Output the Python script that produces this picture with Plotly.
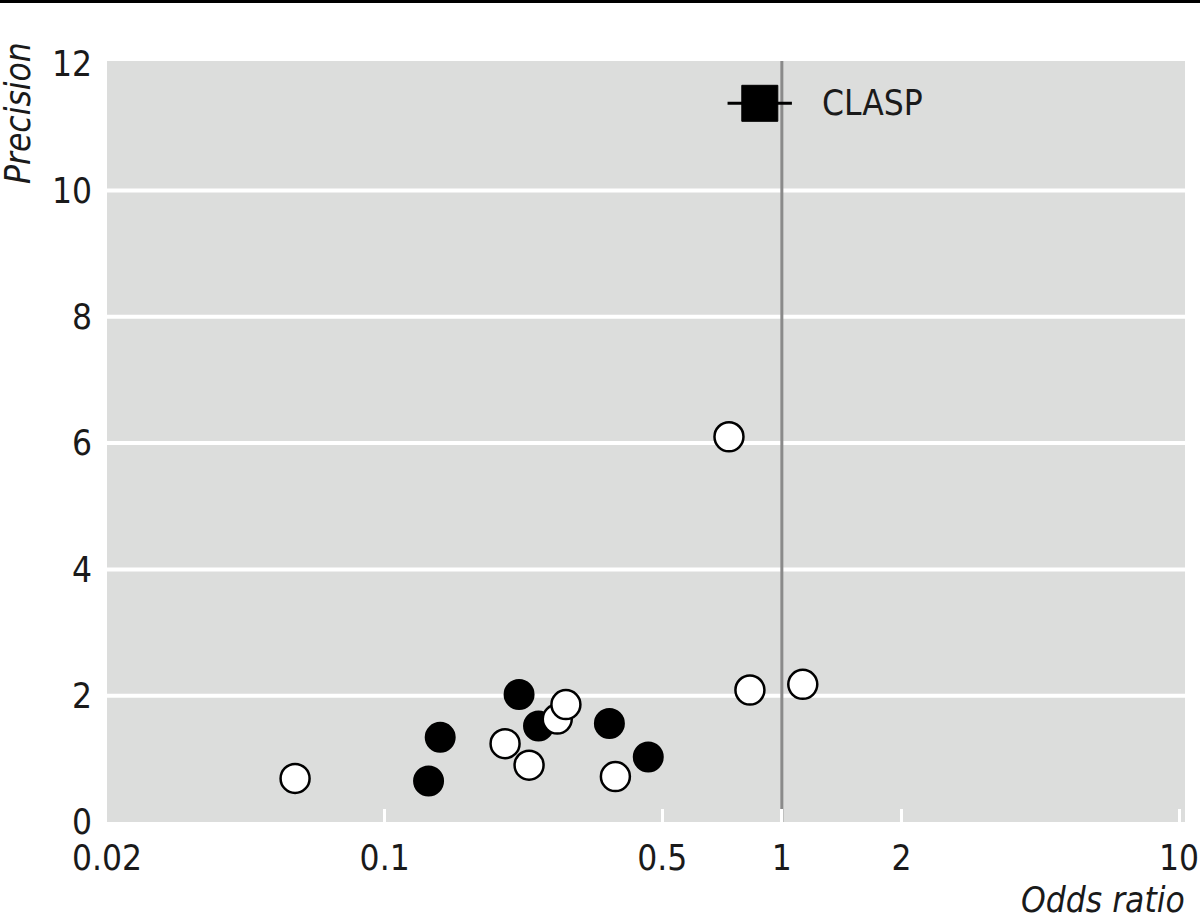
import math
import plotly.graph_objects as go

# Filled circles (odds ratio, precision)
filled_or = [0.129, 0.138, 0.218, 0.244, 0.368, 0.461]
filled_prec = [0.65, 1.34, 2.02, 1.52, 1.56, 1.03]

# Open circles (odds ratio, precision)
open_or = [0.0595, 0.201, 0.231, 0.381, 0.272, 0.286, 0.736, 0.831, 1.129]
open_prec = [0.69, 1.24, 0.90, 0.72, 1.63, 1.86, 6.10, 2.09, 2.18]

# CLASP trial
clasp_or = [0.88]
clasp_prec = [11.38]
clasp_lo = [0.73]
clasp_hi = [1.06]
clasp_label = "CLASP"

x_ticks = [0.02, 0.1, 0.5, 1, 2, 10]
x_ticklabels = ["0.02", "0.1", "0.5", "1", "2", "10"]
y_ticks = [0, 2, 4, 6, 8, 10, 12]
y_gridlines = [2, 4, 6, 8, 10]
x_range = [0.02, 10.35]
y_range = [0, 12.05]
null_or = 1

FONT = "Liberation Sans Narrow, DejaVu Sans Condensed, Roboto Condensed, Arial Narrow, sans-serif"
INK = "#1a1a1a"

fig = go.Figure()

# null line at OR = 1
fig.add_trace(go.Scatter(
    x=[null_or, null_or], y=y_range, mode="lines",
    line=dict(color="#8a8a8a", width=3), hoverinfo="skip", showlegend=False))

fig.add_trace(go.Scatter(
    x=filled_or, y=filled_prec, mode="markers",
    marker=dict(symbol="circle", size=29, color="black", line=dict(color="black", width=2)),
    showlegend=False))

fig.add_trace(go.Scatter(
    x=open_or, y=open_prec, mode="markers",
    marker=dict(symbol="circle", size=29, color="white", line=dict(color="black", width=2.5)),
    showlegend=False))

fig.add_trace(go.Scatter(
    x=clasp_or, y=clasp_prec, mode="markers",
    marker=dict(symbol="square", size=36, color="black", line=dict(color="black", width=1)),
    error_x=dict(type="data", symmetric=False,
                 array=[h - c for h, c in zip(clasp_hi, clasp_or)],
                 arrayminus=[c - l for c, l in zip(clasp_or, clasp_lo)],
                 color="black", thickness=3, width=0),
    showlegend=False))

fig.add_annotation(
    x=math.log10(clasp_or[0]), y=clasp_prec[0], xref="x", yref="y",
    text=clasp_label, showarrow=False, xanchor="left", yanchor="middle",
    xshift=60, font=dict(family=FONT, size=35, color=INK))

# white horizontal gridlines (not at the plot edges)
for gy in y_gridlines:
    fig.add_shape(type="line", xref="paper", yref="y", x0=0, x1=1, y0=gy, y1=gy,
                  line=dict(color="white", width=4), layer="below")

# axis titles
fig.add_annotation(
    x=1.002, y=-0.1025, xref="paper", yref="paper", text="<i>Odds ratio</i>",
    showarrow=False, xanchor="right", yanchor="middle",
    font=dict(family=FONT, size=35, color=INK))
fig.add_annotation(
    x=-0.0826, y=0.9317, xref="paper", yref="paper", text="<i>Precision</i>",
    showarrow=False, textangle=-90, xanchor="center", yanchor="middle",
    font=dict(family=FONT, size=35, color=INK))

# top black rule
fig.add_shape(type="line", xref="paper", yref="paper",
              x0=-0.2, x1=1.1, y0=1.0788, y1=1.0788,
              line=dict(color="black", width=4))

fig.update_xaxes(
    type="log", range=[math.log10(v) for v in x_range],
    tickvals=x_ticks, ticktext=x_ticklabels,
    ticks="inside", ticklen=13, tickwidth=3, tickcolor="white",
    ticklabelstandoff=12,
    showgrid=False, zeroline=False, showline=False, automargin=False,
    tickfont=dict(family=FONT, size=35, color=INK))
fig.update_yaxes(
    range=y_range, tickvals=y_ticks, ticklabelstandoff=14,
    showgrid=False, zeroline=False, showline=False, ticks="", automargin=False,
    tickfont=dict(family=FONT, size=35, color=INK))

fig.update_layout(
    width=1200, height=913,
    margin=dict(l=107, r=15, t=61, b=91),
    plot_bgcolor="#dcdddc", paper_bgcolor="white",
    showlegend=False)

fig.write_html("out.html", config={"displayModeBar": False},
               post_script="document.body.style.margin='0';document.body.style.overflow='hidden';")
